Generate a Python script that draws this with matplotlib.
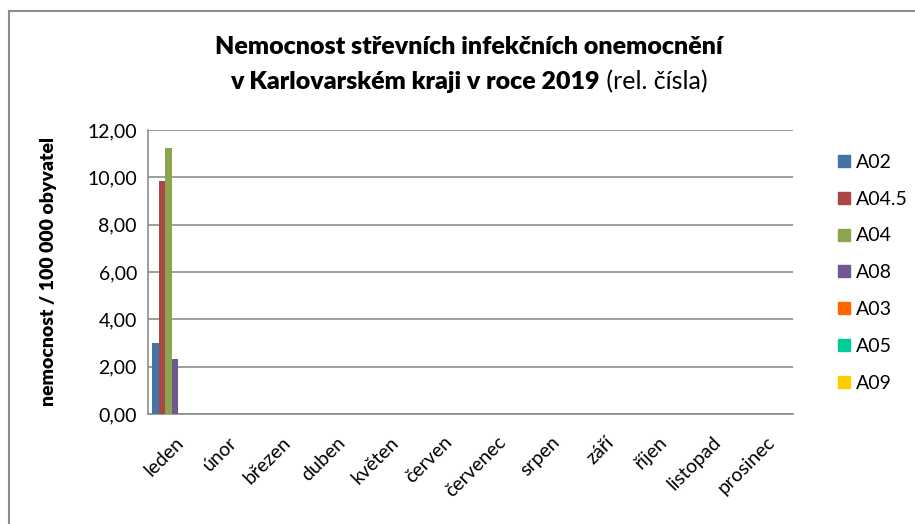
import numpy as np
import matplotlib.pyplot as plt
from matplotlib.lines import Line2D

plt.rcParams['font.family'] = ['Lato', 'DejaVu Sans']

# data
months = ['leden', 'únor', 'březen', 'duben', 'květen', 'červen',
          'červenec', 'srpen', 'září', 'říjen', 'listopad', 'prosinec']
series = ['A02', 'A04.5', 'A04', 'A08', 'A03', 'A05', 'A09']
a02 = [3.01, 0, 0, 0, 0, 0, 0, 0, 0, 0, 0, 0]
a045 = [9.84, 0, 0, 0, 0, 0, 0, 0, 0, 0, 0, 0]
a04 = [11.22, 0, 0, 0, 0, 0, 0, 0, 0, 0, 0, 0]
a08 = [2.33, 0, 0, 0, 0, 0, 0, 0, 0, 0, 0, 0]
a03 = [0] * 12
a05 = [0] * 12
a09 = [0] * 12
values = [a02, a045, a04, a08, a03, a05, a09]
colors = ['#4572A7', '#AA4643', '#89A54E', '#71588F', '#FF6600', '#00CC99', '#FFCC00']
yticks = [0, 2, 4, 6, 8, 10, 12]

fig = plt.figure(figsize=(9.15, 5.24), dpi=100)
ax = fig.add_axes([148/915, 1-414/524, (793-148)/915, (414-130)/524])

x = np.arange(len(months))
w = 1/8.35
for i, (vals, c) in enumerate(zip(values, colors)):
    ax.bar(x + (i-3)*w, vals, width=w, color=c, zorder=3)

ax.set_xlim(-0.5, 11.5)
ax.set_ylim(0, 12)
ax.set_yticks(yticks)
ax.yaxis.set_major_formatter(plt.FuncFormatter(lambda v, p: ('%.2f' % v).replace('.', ',')))
ax.set_xticks(x)
ax.set_xticklabels(months, rotation=45, ha='right', va='top', rotation_mode='anchor', fontsize=14)
ax.tick_params(axis='y', length=0, pad=8, labelsize=14)
ax.tick_params(axis='x', length=0, pad=14)
ax.grid(axis='y', color='#8c8c8c', linewidth=1.2, zorder=0)
for s in ['top', 'right']:
    ax.spines[s].set_visible(False)
for s in ['left', 'bottom']:
    ax.spines[s].set_color('#8c8c8c')
    ax.spines[s].set_linewidth(1.2)
ax.set_ylabel('nemocnost / 100 000 obyvatel', fontsize=14, fontweight='heavy', labelpad=22)

# legend
handles = [Line2D([], [], marker='s', linestyle='', markersize=9, color=c) for c in colors]
fig.legend(handles, series, loc='upper left', bbox_to_anchor=(826/915, 1-146/524),
           frameon=False, fontsize=14, labelspacing=1.02, handletextpad=0.15,
           handlelength=1.0, borderaxespad=0)

# title
fig.text(469/915, 1-47/524, 'Nemocnost střevních infekčních onemocnění', ha='center', va='center',
         fontsize=18, fontweight='heavy')
t1 = fig.text(0, 1-82/524, 'v Karlovarském kraji v roce 2019', ha='left', va='center',
              fontsize=18, fontweight='heavy')
t2 = fig.text(0, 1-82/524, ' (rel. čísla)', ha='left', va='center', fontsize=18)
fig.canvas.draw()
r = fig.canvas.get_renderer()
w1 = t1.get_window_extent(r).width
w2 = t2.get_window_extent(r).width
x0 = 469 - (w1 + w2) / 2
t1.set_x(x0 / 915)
t2.set_x((x0 + w1) / 915)

# frame
fig.add_artist(Line2D([9/915, 9/915], [0, 1-11/524], color='#8c8c8c', linewidth=1.5))
fig.add_artist(Line2D([9/915, 1], [1-11/524, 1-11/524], color='#8c8c8c', linewidth=1.5))

fig.savefig('out.png', dpi=100)
